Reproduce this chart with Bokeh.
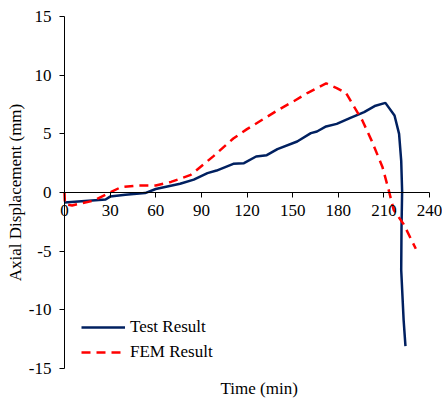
from bokeh.plotting import figure
from bokeh.models import Range1d, FixedTicker, Legend, LegendItem, Label, LinearAxis
from bokeh.embed import file_html
from bokeh.resources import INLINE

# Test result (time in min, axial displacement in mm)
test_t = [0, 27, 30, 40, 53, 60, 76, 85, 94, 100, 111, 118, 126, 133, 140, 153,
          162, 166, 172, 179, 188, 197, 204.5, 211, 217, 220, 221.4, 222, 221.6, 221.4, 223, 224.2]
test_d = [-0.85, -0.6, -0.35, -0.2, -0.05, 0.3, 0.74, 1.1, 1.65, 1.87, 2.44, 2.5, 3.07, 3.18, 3.7, 4.35,
          5.06, 5.2, 5.63, 5.85, 6.36, 6.85, 7.4, 7.64, 6.56, 5.0, 2.7, 0.1, -3.0, -6.6, -10.9, -13.1]

# FEM result
fem_t = [0, 0.3, 5, 19, 30, 37, 48, 60, 70, 83, 98, 111, 120, 130, 140, 151, 160,
         172, 179, 185, 190, 196, 202, 209, 213, 216.5, 223, 231]
fem_d = [0, -1.0, -1.1, -0.7, 0, 0.45, 0.6, 0.6, 0.9, 1.5, 3.1, 4.6, 5.4, 6.2, 7.0, 7.8, 8.5,
         9.3, 8.9, 8.5, 7.4, 6.1, 4.4, 2.2, 0.3, -1.5, -2.7, -4.8]

x_ticks = [0, 30, 60, 90, 120, 150, 180, 210, 240]
y_ticks = [-15, -10, -5, 0, 5, 10, 15]
x_title = "Time (min)"
y_title = "Axial Displacement (mm)"
series_names = ["Test Result", "FEM Result"]

FONT = "Liberation Serif"
FS = "17px"

# layout (pixels): the frame fills the figure, axes sit at the zero lines
W, H = 442, 398
AX_L, AX_R, AX_T, AX_B = 64, 429, 16, 368   # where 0/240 and 15/-15 fall
XMIN, XMAX, YMIN, YMAX = x_ticks[0], x_ticks[-1], y_ticks[0], y_ticks[-1]
sx = (AX_R - AX_L) / (XMAX - XMIN)
sy = (AX_B - AX_T) / (YMAX - YMIN)
x_range = Range1d(XMIN - AX_L / sx, XMAX + (W - AX_R) / sx)
y_range = Range1d(YMIN - (H - AX_B) / sy, YMAX + AX_T / sy)

p = figure(frame_width=W, frame_height=H, output_backend="svg", toolbar_location=None,
           x_range=x_range, y_range=y_range,
           x_axis_location=None, y_axis_location=None, min_border=0)
p.grid.visible = False
p.outline_line_color = None
p.background_fill_color = "white"
p.border_fill_color = "white"

xaxis = LinearAxis(fixed_location=0, bounds=(XMIN, XMAX), ticker=FixedTicker(ticks=x_ticks))
xaxis.major_label_overrides = {t: str(t) for t in x_ticks}
yaxis = LinearAxis(fixed_location=0, bounds=(YMIN, YMAX), ticker=FixedTicker(ticks=y_ticks))
yaxis.major_label_overrides = {t: str(t) for t in y_ticks}
p.add_layout(xaxis, "below")
p.add_layout(yaxis, "left")

for ax in (xaxis, yaxis):
    ax.axis_line_color = "black"
    ax.axis_line_width = 1
    ax.major_tick_line_color = "black"
    ax.major_tick_in = 0
    ax.major_tick_out = 5
    ax.minor_tick_line_color = None
    ax.major_label_text_font = FONT
    ax.major_label_text_font_size = FS
    ax.major_label_text_color = "black"

xaxis.major_label_standoff = 7
yaxis.major_label_standoff = 8
yaxis.axis_label = y_title
yaxis.axis_label_text_font = FONT
yaxis.axis_label_text_font_size = FS
yaxis.axis_label_text_font_style = "normal"
yaxis.axis_label_text_color = "black"
yaxis.axis_label_standoff = 1

r_test = p.line(test_t, test_d, line_color="#002060", line_width=2.5)
r_fem = p.line(fem_t, fem_d, line_color="#FF0000", line_width=2.5, line_dash="9 6")

legend = Legend(items=[LegendItem(label=series_names[0], renderers=[r_test]),
                       LegendItem(label=series_names[1], renderers=[r_fem])],
                location=(81, 36))
legend.label_text_font = FONT
legend.label_text_font_size = FS
legend.label_text_color = "black"
legend.glyph_width = 44
legend.glyph_height = 20
legend.label_height = 20
legend.spacing = 5
legend.padding = 0
legend.margin = 0
legend.label_standoff = 5
legend.border_line_alpha = 0
legend.background_fill_alpha = 0
p.add_layout(legend, "center")

xt = Label(x=(XMIN + XMAX) / 2 + 8, y=YMIN - 19.5 / sy, text=x_title,
           text_align="center", text_baseline="middle",
           text_font=FONT, text_font_size=FS, text_color="black")
p.add_layout(xt)

open("out.html", "w").write(file_html(p, INLINE))
